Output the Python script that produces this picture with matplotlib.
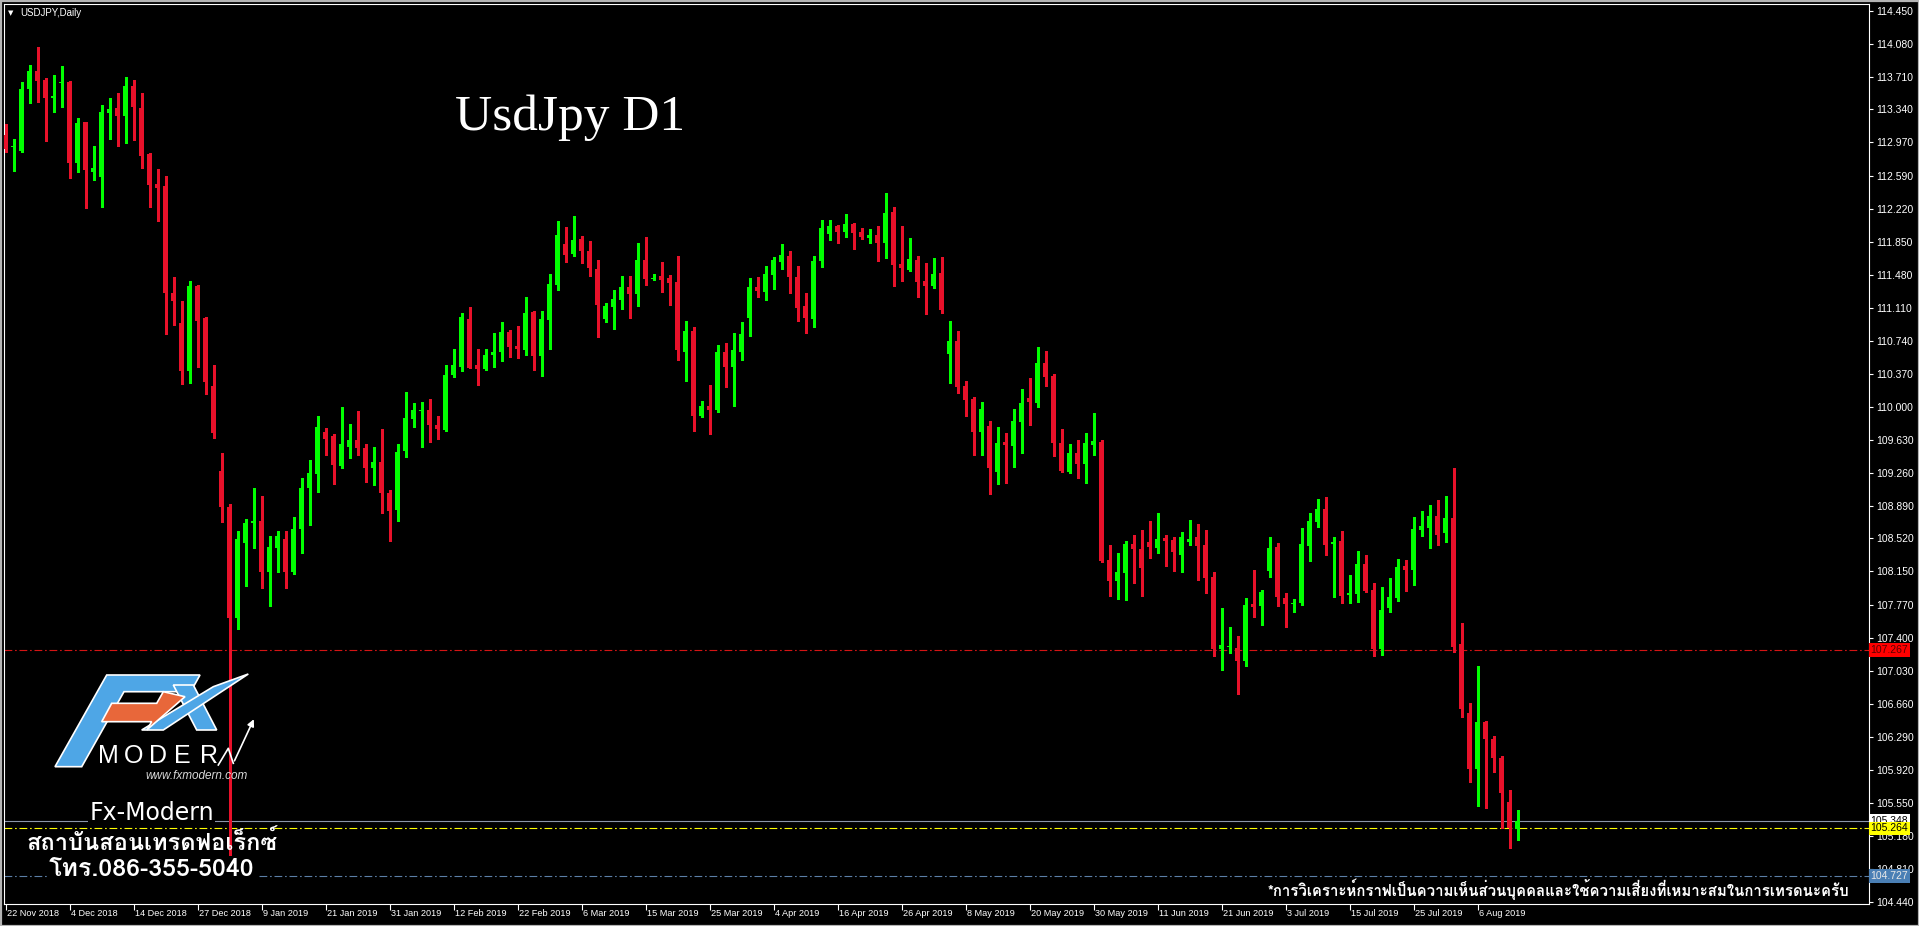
import numpy as np
import matplotlib
matplotlib.use("Agg")
import matplotlib.pyplot as plt
from matplotlib import font_manager as fm
from matplotlib.ft2font import FT2Font
from matplotlib.patches import Polygon, Rectangle
from matplotlib.transforms import blended_transform_factory

# --- données USDJPY daily ---
opens = [113.053, 112.920, 112.873, 113.570, 113.772, 113.670, 113.469, 113.637, 113.649, 112.739,
         113.195, 112.637, 112.580, 113.300, 113.357, 113.266, 113.603, 113.357, 112.840, 112.502,
         112.475, 111.283, 110.941, 110.404, 111.356, 110.994, 110.229, 109.278, 108.873, 107.627,
         108.468, 108.693, 108.720, 108.140, 108.413, 108.510, 108.140, 108.630, 109.084, 109.240,
         109.713, 109.668, 109.334, 109.551, 109.626, 109.540, 109.315, 109.375, 109.035, 108.840,
         109.503, 109.860, 109.955, 109.963, 109.795, 109.739, 110.357, 110.450, 110.986, 110.469,
         110.424, 110.582, 110.610, 110.843, 110.680, 110.638, 111.068, 110.570, 110.975, 111.368,
         111.829, 111.713, 111.880, 111.753, 111.550, 110.986, 111.124, 111.200, 111.349, 111.267,
         111.649, 111.430, 111.469, 111.450, 111.402, 110.615, 110.851, 109.896, 110.009, 109.963,
         110.615, 110.443, 110.620, 111.000, 111.349, 111.290, 111.480, 111.630, 111.694, 111.461,
         111.135, 110.986, 111.638, 111.940, 112.034, 111.967, 112.053, 111.967, 111.900, 111.930,
         111.836, 112.192, 111.604, 111.536, 111.649, 111.417, 111.357, 111.499, 110.593, 110.739,
         110.230, 110.087, 109.713, 109.781, 109.262, 109.600, 109.563, 109.832, 110.094, 110.045,
         110.495, 110.350, 109.596, 109.262, 109.484, 109.356, 109.570, 109.607, 108.276, 108.040,
         108.129, 108.458, 108.400, 108.480, 108.416, 108.520, 108.500, 108.330, 108.483, 108.540,
         108.445, 108.089, 107.274, 107.300, 107.285, 107.142, 107.780, 107.764, 108.158, 108.420,
         107.850, 107.783, 107.790, 108.440, 108.707, 108.852, 108.455, 108.490, 107.880, 107.900,
         108.230, 107.940, 107.274, 107.740, 107.855, 108.210, 108.166, 108.620, 108.640, 108.772,
         108.580, 108.753, 107.330, 106.555, 105.930, 106.454, 106.264, 106.050, 105.557, 105.251]
highs = [113.177, 113.008, 113.649, 113.840, 114.042, 113.694, 113.728, 113.829, 113.660, 113.244,
         113.200, 112.929, 113.390, 113.469, 113.525, 113.705, 113.671, 113.525, 112.850, 112.671,
         112.595, 111.463, 111.193, 111.415, 111.370, 111.012, 110.469, 109.476, 108.907, 108.603,
         108.740, 109.087, 108.997, 108.543, 108.604, 108.600, 108.766, 109.194, 109.402, 109.896,
         109.758, 109.694, 110.000, 109.806, 109.952, 109.581, 109.551, 109.747, 109.065, 109.581,
         110.163, 110.039, 110.050, 110.090, 109.896, 110.469, 110.646, 111.050, 111.120, 110.646,
         110.646, 110.832, 110.955, 110.862, 110.907, 111.237, 111.076, 111.076, 111.491, 112.082,
         112.023, 112.147, 111.922, 111.866, 111.649, 111.165, 111.312, 111.469, 111.469, 111.843,
         111.911, 111.490, 111.623, 111.480, 111.694, 110.963, 110.900, 110.068, 110.244, 110.694,
         110.720, 110.832, 110.949, 111.450, 111.460, 111.581, 111.679, 111.829, 111.750, 111.581,
         111.282, 111.694, 112.098, 112.098, 112.040, 112.166, 112.068, 112.005, 111.997, 112.030,
         112.398, 112.248, 112.030, 111.893, 111.694, 111.619, 111.668, 111.679, 110.963, 110.851,
         110.290, 110.113, 110.050, 109.843, 109.776, 109.700, 109.975, 110.199, 110.318, 110.675,
         110.627, 110.368, 109.750, 109.581, 109.626, 109.708, 109.933, 109.626, 108.445, 108.360,
         108.495, 108.559, 108.615, 108.713, 108.810, 108.563, 108.531, 108.596, 108.725, 108.680,
         108.615, 108.140, 107.736, 107.530, 107.420, 107.853, 108.166, 107.940, 108.533, 108.472,
         107.910, 107.836, 108.634, 108.810, 108.960, 108.983, 108.533, 108.604, 108.108, 108.380,
         108.330, 108.018, 107.978, 108.073, 108.290, 108.278, 108.758, 108.830, 108.896, 108.952,
         108.997, 109.308, 107.567, 106.675, 107.087, 106.469, 106.300, 106.075, 105.690, 105.469]
lows = [112.862, 112.650, 112.862, 113.413, 113.424, 112.988, 113.312, 113.368, 112.570, 112.637,
        112.228, 112.548, 112.240, 113.008, 112.932, 112.966, 113.000, 112.682, 112.240, 112.083,
        110.813, 110.922, 110.259, 110.270, 110.452, 110.139, 109.644, 108.705, 104.750, 107.500,
        107.990, 108.410, 107.960, 107.760, 108.143, 107.960, 108.120, 108.360, 108.671, 109.047,
        109.458, 109.133, 109.308, 109.421, 109.458, 109.158, 109.120, 108.803, 108.495, 108.720,
        109.432, 109.776, 109.551, 109.600, 109.638, 109.730, 110.331, 110.405, 110.432, 110.244,
        110.413, 110.450, 110.517, 110.563, 110.551, 110.582, 110.413, 110.346, 110.649, 111.312,
        111.630, 111.694, 111.612, 111.469, 110.780, 110.952, 110.874, 111.098, 111.000, 111.132,
        111.368, 111.420, 111.293, 111.143, 110.525, 110.292, 109.731, 109.889, 109.694, 109.945,
        110.219, 110.009, 110.525, 110.798, 111.237, 111.200, 111.323, 111.548, 111.282, 110.967,
        110.832, 110.900, 111.574, 111.874, 111.843, 111.911, 111.769, 111.889, 111.836, 111.640,
        111.675, 111.360, 111.417, 111.530, 111.230, 111.042, 111.338, 111.057, 110.270, 110.158,
        109.896, 109.458, 109.458, 109.016, 109.133, 109.147, 109.326, 109.484, 109.795, 110.000,
        110.233, 109.446, 109.270, 109.252, 109.200, 109.147, 109.458, 108.260, 107.874, 107.837,
        107.830, 108.023, 107.874, 108.304, 108.352, 108.214, 108.158, 108.147, 108.445, 108.053,
        107.904, 107.200, 107.042, 107.236, 106.772, 107.087, 107.641, 107.547, 108.091, 107.764,
        107.528, 107.697, 107.770, 108.265, 108.652, 108.334, 107.859, 107.800, 107.790, 107.808,
        107.922, 107.200, 107.210, 107.697, 107.820, 107.933, 107.994, 108.547, 108.416, 108.445,
        108.485, 107.247, 106.510, 105.780, 105.517, 105.488, 105.893, 105.264, 105.047, 105.130]
closes = [112.896, 112.930, 113.570, 113.772, 113.660, 113.469, 113.491, 113.649, 112.739, 113.187,
          112.656, 112.682, 113.312, 113.345, 113.266, 113.603, 113.368, 112.817, 112.491, 112.457,
          111.283, 111.193, 110.404, 111.356, 110.963, 110.278, 109.700, 108.873, 107.627, 108.513,
          108.693, 108.720, 108.140, 108.424, 108.543, 108.140, 108.630, 109.087, 109.253, 109.769,
          109.638, 109.346, 109.581, 109.626, 109.540, 109.315, 109.375, 109.028, 108.832, 109.488,
          109.871, 109.963, 109.963, 109.795, 109.750, 110.357, 110.469, 111.012, 110.439, 110.424,
          110.582, 110.619, 110.843, 110.675, 110.649, 111.057, 110.570, 110.986, 111.379, 111.925,
          111.705, 111.874, 111.750, 111.562, 111.143, 111.135, 111.210, 111.349, 111.267, 111.649,
          111.432, 111.440, 111.424, 111.387, 110.638, 110.851, 109.896, 110.009, 109.963, 110.615,
          110.443, 110.638, 110.817, 111.349, 111.300, 111.491, 111.649, 111.705, 111.461, 111.113,
          111.000, 111.638, 112.012, 112.034, 111.967, 112.053, 111.956, 111.911, 111.930, 111.843,
          112.181, 111.593, 111.562, 111.660, 111.406, 111.360, 111.491, 111.087, 110.739, 110.219,
          110.076, 109.713, 109.975, 109.310, 109.594, 109.570, 109.843, 110.045, 110.057, 110.495,
          110.338, 109.589, 109.278, 109.484, 109.356, 109.596, 109.615, 108.265, 108.040, 108.140,
          108.458, 108.398, 108.192, 108.428, 108.513, 108.490, 108.370, 108.540, 108.513, 108.439,
          108.077, 107.274, 107.320, 107.310, 107.142, 107.771, 107.753, 107.913, 108.410, 107.866,
          107.783, 107.800, 108.455, 108.716, 108.848, 108.445, 108.485, 107.877, 107.910, 108.230,
          107.933, 107.274, 107.716, 107.866, 108.203, 108.166, 108.627, 108.660, 108.772, 108.560,
          108.753, 107.303, 106.600, 105.930, 106.454, 106.264, 106.057, 105.657, 105.270, 105.348]

# une étiquette de date toutes les 8 bougies
date_labels = ["22 Nov 2018", "4 Dec 2018", "14 Dec 2018", "27 Dec 2018", "9 Jan 2019",
               "21 Jan 2019", "31 Jan 2019", "12 Feb 2019", "22 Feb 2019", "6 Mar 2019",
               "15 Mar 2019", "25 Mar 2019", "4 Apr 2019", "16 Apr 2019", "26 Apr 2019",
               "8 May 2019", "20 May 2019", "30 May 2019", "11 Jun 2019", "21 Jun 2019",
               "3 Jul 2019", "15 Jul 2019", "25 Jul 2019", "6 Aug 2019"]
label_step = 8

price_ticks = [114.450, 114.080, 113.710, 113.340, 112.970, 112.590, 112.220, 111.850,
               111.480, 111.110, 110.740, 110.370, 110.000, 109.630, 109.260, 108.890,
               108.520, 108.150, 107.770, 107.400, 107.030, 106.660, 106.290, 105.920,
               105.550, 105.180, 104.810, 104.440]

red_level = 107.267
bid_price = 105.348
yellow_level = 105.264
blue_level = 104.727

title = "UsdJpy D1"
symbol = "USDJPY,Daily"
brand = "Fx-Modern"
school = "สถาบันสอนเทรดฟอเร็กซ์"
phone = "โทร.086-355-5040"
disclaimer = "*การวิเคราะห์กราฟเป็นความเห็นส่วนบุคคลและใช้ความเสี่ยงที่เหมาะสมในการเทรดนะครับ"


# --- police avec les caractères thaï (si disponible) ---
def find_thai_font():
    for f in fm.fontManager.ttflist:
        try:
            if 0x0E01 in FT2Font(f.fname).get_charmap():
                return f.fname
        except Exception:
            continue
    return None


thai_path = find_thai_font()


def thai_props(size):
    if thai_path:
        return fm.FontProperties(fname=thai_path, size=size)
    return fm.FontProperties(family="DejaVu Sans", size=size)


AXFONT = ["Liberation Sans", "DejaVu Sans"]
GREEN = "#00ff00"
RED = "#e8112a"

W, H = 1919, 926
fig = plt.figure(figsize=(W / 100, H / 100), dpi=100, facecolor="black")
ax = fig.add_axes([4 / W, (H - 904) / H, (1869 - 4) / W, (904 - 4) / H], facecolor="black")

# --- bougies ---
o = np.array(opens)
h = np.array(highs)
l = np.array(lows)
c = np.array(closes)
x = np.arange(len(o))
colors = np.where(c >= o, GREEN, RED)
ax.vlines(x, l, h, colors=colors, linewidth=0.8, antialiased=False, zorder=3)
body_bottom = np.minimum(o, c)
body_height = np.maximum(np.abs(c - o), 0.012)
ax.bar(x, body_height, bottom=body_bottom, width=0.62, color=colors, linewidth=0,
       antialiased=False, zorder=4)

ax.set_xlim(-0.21, 232.9)
ax.set_ylim(104.413, 114.525)

# --- lignes horizontales ---
dashdot = (0, (7, 2.5, 1.5, 2.5))
ax.axhline(red_level, color="#d41414", lw=0.8, linestyle=dashdot, zorder=2)
ax.axhline(bid_price, color="#8c96aa", lw=0.8, zorder=2)
ax.axhline(yellow_level, color="#ffff00", lw=0.8, linestyle=dashdot, zorder=2)
ax.axhline(blue_level, color="#5b7fa6", lw=0.8, linestyle=dashdot, zorder=2)

# --- axes ---
for s in ax.spines.values():
    s.set_color("white")
    s.set_linewidth(0.8)
ax.yaxis.tick_right()
ax.set_yticks(price_ticks)
ax.set_yticklabels([f"{p:.3f}" for p in price_ticks])
ax.tick_params(axis="y", colors="white", length=3, width=0.8, pad=2, labelsize=7.5)
for lab in ax.get_yticklabels():
    lab.set_fontfamily(AXFONT)

tick_pos = [i * label_step for i in range(len(date_labels))]
ax.set_xticks(tick_pos)
ax.set_xticklabels([])
ax.tick_params(axis="x", colors="white", length=4, width=0.8)
bt = blended_transform_factory(ax.transData, ax.transAxes)
for pos, lab in zip(tick_pos, date_labels):
    ax.text(pos + 0.15, -0.0105, lab, transform=bt, ha="left", va="center", fontsize=6.6,
            color="white", family=AXFONT, clip_on=False)

# étiquettes de prix sur l'échelle de droite
rt = blended_transform_factory(ax.transAxes, ax.transData)
for val, fc, tc in [(red_level, "#ff0000", "#5a0000"), (bid_price, "white", "black"),
                    (yellow_level, "#ffff00", "black"), (blue_level, "#4a7fb5", "#e8e8e8")]:
    ax.text(1.0008, val, f"{val:.3f}", transform=rt, ha="left", va="center", fontsize=7.5,
            color=tc, family=AXFONT, clip_on=False, zorder=10,
            bbox=dict(boxstyle="square,pad=0.15", fc=fc, ec="none"))

# --- calque en pixels pour les textes et le logo ---
ov = fig.add_axes([0, 0, 1, 1])
ov.set_xlim(0, W)
ov.set_ylim(H, 0)
ov.axis("off")
ov.patch.set_alpha(0)

ov.add_patch(Rectangle((0.5, 0.5), W - 1, H - 1, fill=False, ec="#b4b4b4", lw=1.6))

ov.text(8, 13, "▼", fontsize=5, color="white", va="center", family="DejaVu Sans")
ov.text(20, 13, symbol, fontsize=7, color="white", va="center", family="Liberation Sans")
ov.text(570, 118, title, fontsize=37, color="white", ha="center", va="center",
        family="Liberation Serif")

# logo FX MODERN
blue = "#4ea6e6"
ov.add_patch(Polygon([(55, 766.7), (106.7, 675), (200, 675), (190.7, 691.7), (124, 691.7),
                      (81.7, 766.7)], closed=True, fc=blue, ec="white", lw=1.2))
ov.add_patch(Polygon([(173.3, 685), (193.3, 685), (216.7, 730), (196.7, 730)],
                     closed=True, fc=blue, ec="white", lw=1.2))
ov.add_patch(Polygon([(141.7, 730), (163.3, 730), (248.3, 674), (213.3, 686.7)],
                     closed=True, fc=blue, ec="white", lw=1.2))
ov.add_patch(Polygon([(101.7, 721.7), (111.7, 703.3), (156.7, 703.3), (163.3, 691.7),
                      (185, 696.7), (146.7, 730), (151.7, 721.7)],
                     closed=True, fc="#e8673a", ec="white", lw=1.2))
for k, ch in enumerate("MODER"):
    ov.text(98 + k * 25.5, 756, ch, fontsize=18, color="white", va="center", ha="left",
            family="Liberation Sans")
ov.plot([218.3, 228.3, 233.3], [765, 748.3, 763.3], color="white", lw=1.2)
ov.annotate("", xy=(255, 716.7), xytext=(233.3, 763.3),
            arrowprops=dict(arrowstyle="-|>", color="white", lw=1.2, mutation_scale=10))
ov.text(196.7, 776, "www.fxmodern.com", fontsize=8.5, color="#d8d8d8", ha="center",
        va="center", style="italic", family="Liberation Sans")

ov.text(151.7, 813, brand, fontsize=17, color="white", ha="center", va="center",
        family="DejaVu Sans", bbox=dict(boxstyle="square,pad=0.05", fc="black", ec="none"))
ov.text(151.7, 843, school, color="white", ha="center", va="center",
        fontproperties=thai_props(17))
ov.text(152, 870, phone, color="white", ha="center", va="center",
        fontproperties=thai_props(18),
        bbox=dict(boxstyle="square,pad=0.1", fc="black", ec="none"))
ov.text(1558, 889, disclaimer, color="white", ha="center", va="center",
        fontproperties=thai_props(10.8))

fig.savefig("out.png", dpi=100, facecolor="black")
